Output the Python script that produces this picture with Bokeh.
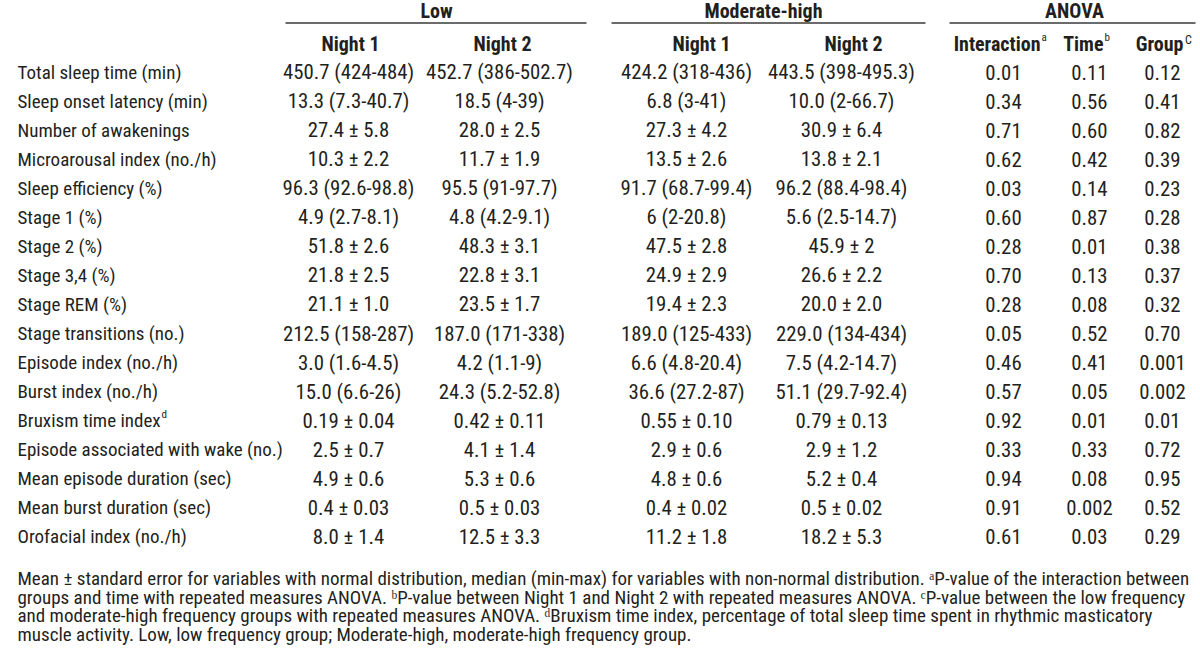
from bokeh.plotting import figure
from bokeh.models import ColumnDataSource, Range1d
from bokeh.core.properties import value
from bokeh.embed import file_html
from bokeh.resources import INLINE

# ---------------- data ----------------
row_labels = [
    "Total sleep time (min)", "Sleep onset latency (min)", "Number of awakenings",
    "Microarousal index (no./h)", "Sleep efficiency (%)", "Stage 1 (%)", "Stage 2 (%)",
    "Stage 3,4 (%)", "Stage REM (%)", "Stage transitions (no.)", "Episode index (no./h)",
    "Burst index (no./h)", "Bruxism time index", "Episode associated with wake (no.)",
    "Mean episode duration (sec)", "Mean burst duration (sec)", "Orofacial index (no./h)",
]
row_label_sups = {"Bruxism time index": "d"}

low_night1 = ["450.7 (424-484)", "13.3 (7.3-40.7)", "27.4 ± 5.8", "10.3 ± 2.2",
              "96.3 (92.6-98.8)", "4.9 (2.7-8.1)", "51.8 ± 2.6", "21.8 ± 2.5", "21.1 ± 1.0",
              "212.5 (158-287)", "3.0 (1.6-4.5)", "15.0 (6.6-26)", "0.19 ± 0.04", "2.5 ± 0.7",
              "4.9 ± 0.6", "0.4 ± 0.03", "8.0 ± 1.4"]
low_night2 = ["452.7 (386-502.7)", "18.5 (4-39)", "28.0 ± 2.5", "11.7 ± 1.9",
              "95.5 (91-97.7)", "4.8 (4.2-9.1)", "48.3 ± 3.1", "22.8 ± 3.1", "23.5 ± 1.7",
              "187.0 (171-338)", "4.2 (1.1-9)", "24.3 (5.2-52.8)", "0.42 ± 0.11", "4.1 ± 1.4",
              "5.3 ± 0.6", "0.5 ± 0.03", "12.5 ± 3.3"]
mod_night1 = ["424.2 (318-436)", "6.8 (3-41)", "27.3 ± 4.2", "13.5 ± 2.6",
              "91.7 (68.7-99.4)", "6 (2-20.8)", "47.5 ± 2.8", "24.9 ± 2.9", "19.4 ± 2.3",
              "189.0 (125-433)", "6.6 (4.8-20.4)", "36.6 (27.2-87)", "0.55 ± 0.10", "2.9 ± 0.6",
              "4.8 ± 0.6", "0.4 ± 0.02", "11.2 ± 1.8"]
mod_night2 = ["443.5 (398-495.3)", "10.0 (2-66.7)", "30.9 ± 6.4", "13.8 ± 2.1",
              "96.2 (88.4-98.4)", "5.6 (2.5-14.7)", "45.9 ± 2", "26.6 ± 2.2", "20.0 ± 2.0",
              "229.0 (134-434)", "7.5 (4.2-14.7)", "51.1 (29.7-92.4)", "0.79 ± 0.13", "2.9 ± 1.2",
              "5.2 ± 0.4", "0.5 ± 0.02", "18.2 ± 5.3"]
p_interaction = ["0.01", "0.34", "0.71", "0.62", "0.03", "0.60", "0.28", "0.70", "0.28",
                 "0.05", "0.46", "0.57", "0.92", "0.33", "0.94", "0.91", "0.61"]
p_time = ["0.11", "0.56", "0.60", "0.42", "0.14", "0.87", "0.01", "0.13", "0.08",
          "0.52", "0.41", "0.05", "0.01", "0.33", "0.08", "0.002", "0.03"]
p_group = ["0.12", "0.41", "0.82", "0.39", "0.23", "0.28", "0.38", "0.37", "0.32",
           "0.70", "0.001", "0.002", "0.01", "0.72", "0.95", "0.52", "0.29"]

group_headers = ["Low", "Moderate-high", "ANOVA"]
night_headers = ["Night 1", "Night 2", "Night 1", "Night 2"]
anova_headers = ["Interaction", "Time", "Group"]
anova_sups = ["a", "b", "C"]

footnote_lines = [
    "Mean ± standard error for variables with normal distribution, median (min-max) for variables with non-normal distribution. ᵃP-value of the interaction between",
    "groups and time with repeated measures ANOVA. ᵇP-value between Night 1 and Night 2 with repeated measures ANOVA. ᶜP-value between the low frequency",
    "and moderate-high frequency groups with repeated measures ANOVA. ᵈBruxism time index, percentage of total sleep time spent in rhythmic masticatory",
    "muscle activity. Low, low frequency group; Moderate-high, moderate-high frequency group.",
]

# ---------------- layout / style ----------------
FONT = "Roboto Condensed"
INK = "#231f20"
RULE = "#3a3a3a"
LABEL_SIZE = 19
VALUE_SIZE = 20.8
HEAD_SIZE = 20
FOOT_SIZE = 19
SUP_SIZE = 11
W, H = 1198, 656

p = figure(width=W, height=H, x_range=Range1d(0, W), y_range=Range1d(H, 0),
           x_axis_type=None, y_axis_type=None, output_backend="svg",
           toolbar_location=None, min_border=0)
p.grid.visible = False
p.outline_line_color = None
p.background_fill_color = "white"
p.border_fill_color = "white"


def put(xs, ys, texts, size, align="center", style="normal"):
    src = ColumnDataSource(dict(x=list(xs), y=list(ys), t=list(texts)))
    p.text(x="x", y="y", text="t", source=src, text_font=value(FONT),
           text_font_size=f"{size}px", text_font_style=style, text_align=align,
           text_baseline="middle", text_color=INK)


# group headers + rules
grp_spans = [(285, 586), (611, 925), (949, 1195)]
put([436, 763, 1074], [10] * 3, group_headers, HEAD_SIZE, style="bold")
p.segment(x0=[a for a, b in grp_spans], x1=[b for a, b in grp_spans],
          y0=[22.5] * 3, y1=[22.5] * 3, line_color=RULE, line_width=1.4)

# column headers
HDR_Y = 43
put([350, 502, 701, 853], [HDR_Y] * 4, night_headers, HEAD_SIZE, style="bold")
anova_ends = [1040, 1103, 1183]
put(anova_ends, [HDR_Y] * 3, anova_headers, HEAD_SIZE, align="right", style="bold")
put([e + 1 for e in anova_ends[:2]], [HDR_Y - 6] * 2, anova_sups[:2], SUP_SIZE, align="left")
put([anova_ends[2] + 1.5], [HDR_Y - 4], anova_sups[2:], 12, align="left")

# body rows
ROW0, ROW_H = 71.5, 29.06
ys = [ROW0 + i * ROW_H for i in range(len(row_labels))]
LABEL_X = 17
put([LABEL_X] * len(ys), ys, row_labels, LABEL_SIZE, align="left")
SUP_X = {"Bruxism time index": 161}
for i, lab in enumerate(row_labels):
    if lab in row_label_sups:
        put([SUP_X[lab]], [ys[i] - 6], [row_label_sups[lab]], SUP_SIZE, align="left")

cols = [low_night1, low_night2, mod_night1, mod_night2, p_interaction, p_time, p_group]
col_x = [348, 499, 686, 841, 1003, 1089, 1162]
for cx, col in zip(col_x, cols):
    put([cx] * len(col), ys, col, VALUE_SIZE)

# footnote
FOOT_Y0, FOOT_H = 578, 18.7
put([17] * len(footnote_lines), [FOOT_Y0 + i * FOOT_H for i in range(len(footnote_lines))],
    footnote_lines, FOOT_SIZE, align="left")

open("out.html", "w").write(file_html(p, INLINE))
